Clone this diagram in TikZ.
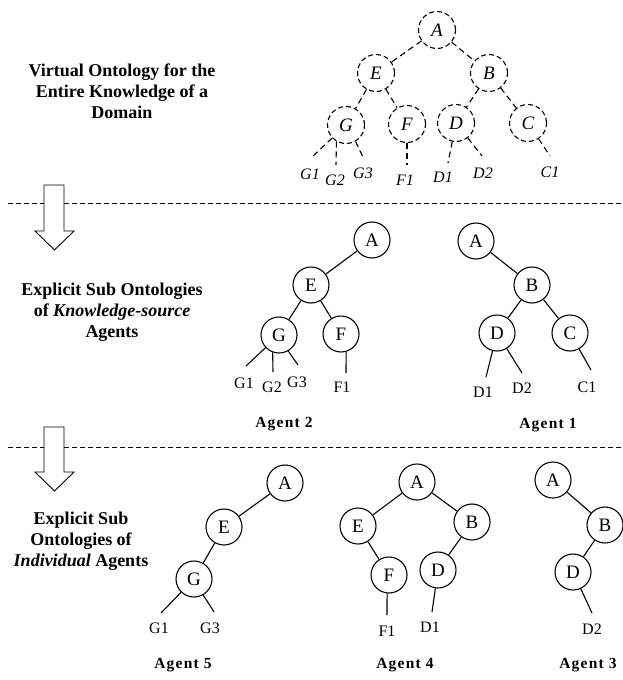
\documentclass[tikz,border=0pt]{standalone}
\usepackage{fontspec}
\setmainfont{Liberation Serif}
\newfontfamily\agentfont[LetterSpace=8]{Liberation Serif}
\begin{document}
\begin{tikzpicture}[x=1pt,y=-1pt,
  line width=1.1pt,
  vnode/.style={circle,draw,dash pattern=on 5pt off 3pt,minimum size=37pt,inner sep=0pt,font=\fontsize{19}{19}\selectfont\itshape},
  onode/.style={circle,draw,minimum size=36pt,inner sep=0pt,font=\fontsize{19}{19}\selectfont},
  vedge/.style={dash pattern=on 6pt off 4pt},
  vleaf/.style={inner sep=0pt,font=\fontsize{16}{16}\selectfont\itshape},
  oleaf/.style={inner sep=0pt,font=\fontsize{16}{16}\selectfont},
  sepline/.style={line width=0.9pt,dash pattern=on 5pt off 3pt},
  blockarrow/.style={draw,fill=white,line width=0.9pt,line join=miter},
  lefttext/.style={align=center,inner sep=0pt,font=\fontsize{18}{21}\selectfont\bfseries},
  agentlabel/.style={inner sep=0pt,font=\fontsize{15.5}{16}\selectfont\agentfont\bfseries}]
\useasboundingbox (0,0) rectangle (623,680);

% separators
\draw[sepline] (8,203) -- (623,203);
\draw[sepline] (8,447) -- (623,447);
% block arrows
\draw[blockarrow] (44,185) -- (64,185) -- (64,231) -- (74,231) -- (54.5,250) -- (35,231) -- (44,231) -- cycle;
\draw[blockarrow] (44,427) -- (64,427) -- (64,472) -- (74,472) -- (54.5,491) -- (35,472) -- (44,472) -- cycle;

% left texts
\node[lefttext] (t1) at (122,91) {Virtual Ontology for the\\Entire Knowledge of a\\Domain};
\node[lefttext] (t2) at (112,312) {Explicit Sub Ontologies\\of \textit{Knowledge-source}\\Agents};
\node[lefttext] (t3) at (81,541) {Explicit Sub\\Ontologies of\\\textit{Individual} Agents};

% ---------- top virtual tree ----------
\node[vnode] (vA) at (437,30) {A};
\node[vnode] (vE) at (376,73) {E};
\node[vnode] (vB) at (489,73) {B};
\node[vnode] (vG) at (346,125) {G};
\node[vnode] (vF) at (407,124) {F};
\node[vnode] (vD) at (456,123) {D};
\node[vnode] (vC) at (528,123) {C};
\draw[vedge] (vA) -- (vE);
\draw[vedge] (vA) -- (vB);
\draw[vedge] (vE) -- (vG);
\draw[vedge] (vE) -- (vF);
\draw[vedge] (vB) -- (vD);
\draw[vedge] (vB) -- (vC);
\coordinate (vg1e) at (313,156);
\coordinate (vg2e) at (336,165);
\coordinate (vg3e) at (363,157);
\coordinate (vf1e) at (407,165);
\coordinate (vd1e) at (448,163);
\coordinate (vd2e) at (482,156);
\coordinate (vc1e) at (550,156);
\draw[vedge] (vG) -- (vg1e);
\draw[vedge] (vG.240) -- (vg2e);
\draw[vedge] (vG.300) -- (vg3e);
\draw[vedge] (vF) -- (vf1e);
\draw[vedge] (vD) -- (vd1e);
\draw[vedge] (vD) -- (vd2e);
\draw[vedge] (vC) -- (vc1e);
\node[vleaf] (vG1) at (310,174) {G1};
\node[vleaf] (vG2) at (335,180) {G2};
\node[vleaf] (vG3) at (363,173) {G3};
\node[vleaf] (vF1) at (405,180) {F1};
\node[vleaf] (vD1) at (443,177) {D1};
\node[vleaf] (vD2) at (483,173) {D2};
\node[vleaf] (vC1) at (550,172) {C1};

% ---------- Agent 2 ----------
\node[onode] (a2A) at (372,240) {A};
\node[onode] (a2E) at (311,285) {E};
\node[onode] (a2G) at (279,335) {G};
\node[onode] (a2F) at (341,334) {F};
\draw (a2A) -- (a2E);
\draw (a2E) -- (a2G);
\draw (a2E) -- (a2F);
\coordinate (a2g1e) at (246,366);
\coordinate (a2g2e) at (273,372);
\coordinate (a2g3e) at (298,365);
\coordinate (a2f1e) at (346,373);
\draw (a2G) -- (a2g1e);
\draw (a2G.250) -- (a2g2e);
\draw (a2G.300) -- (a2g3e);
\draw (a2F.286) -- (a2f1e);
\node[oleaf] (a2G1) at (244,383) {G1};
\node[oleaf] (a2G2) at (272,387) {G2};
\node[oleaf] (a2G3) at (297,382) {G3};
\node[oleaf] (a2F1) at (342,387) {F1};
\node[agentlabel] (ag2) at (284,424) {Agent 2};

% ---------- Agent 1 ----------
\node[onode] (a1A) at (476,241) {A};
\node[onode] (a1B) at (532,285) {B};
\node[onode] (a1D) at (497,333) {D};
\node[onode] (a1C) at (570,333) {C};
\draw (a1A) -- (a1B);
\draw (a1B) -- (a1D);
\draw (a1B) -- (a1C);
\coordinate (a1d1e) at (486,377);
\coordinate (a1d2e) at (522,373);
\coordinate (a1c1e) at (591,370);
\draw (a1D) -- (a1d1e);
\draw (a1D) -- (a1d2e);
\draw (a1C) -- (a1c1e);
\node[oleaf] (a1D1) at (483,392) {D1};
\node[oleaf] (a1D2) at (522,388) {D2};
\node[oleaf] (a1C1) at (587,387) {C1};
\node[agentlabel] (ag1) at (548,425) {Agent 1};

% ---------- Agent 5 ----------
\node[onode] (a5A) at (285,483) {A};
\node[onode] (a5E) at (224,527) {E};
\node[onode] (a5G) at (194,579) {G};
\draw (a5A) -- (a5E);
\draw (a5E) -- (a5G);
\coordinate (a5g1e) at (161,613);
\coordinate (a5g3e) at (214,612);
\draw (a5G) -- (a5g1e);
\draw (a5G.300) -- (a5g3e);
\node[oleaf] (a5G1) at (159,628) {G1};
\node[oleaf] (a5G3) at (210,628) {G3};
\node[agentlabel] (ag5) at (183,665) {Agent 5};

% ---------- Agent 4 ----------
\node[onode] (a4A) at (417,482) {A};
\node[onode] (a4E) at (358,526) {E};
\node[onode] (a4B) at (472,522) {B};
\node[onode] (a4F) at (389,575) {F};
\node[onode] (a4D) at (438,570) {D};
\draw (a4A) -- (a4E);
\draw (a4A) -- (a4B);
\draw (a4E) -- (a4F);
\draw (a4B) -- (a4D);
\coordinate (a4f1e) at (387,615);
\coordinate (a4d1e) at (432,612);
\draw (a4F.264) -- (a4f1e);
\draw (a4D) -- (a4d1e);
\node[oleaf] (a4F1) at (387,631) {F1};
\node[oleaf] (a4D1) at (430,627) {D1};
\node[agentlabel] (ag4) at (405,665) {Agent 4};

% ---------- Agent 3 ----------
\node[onode] (a3A) at (553,480) {A};
\node[onode] (a3B) at (605,525) {B};
\node[onode] (a3D) at (573,572) {D};
\draw (a3A) -- (a3B);
\draw (a3B) -- (a3D);
\coordinate (a3d2e) at (592,613);
\draw (a3D) -- (a3d2e);
\node[oleaf] (a3D2) at (592,629) {D2};
\node[agentlabel] (ag3) at (588,665) {Agent 3};
\end{tikzpicture}
\end{document}
